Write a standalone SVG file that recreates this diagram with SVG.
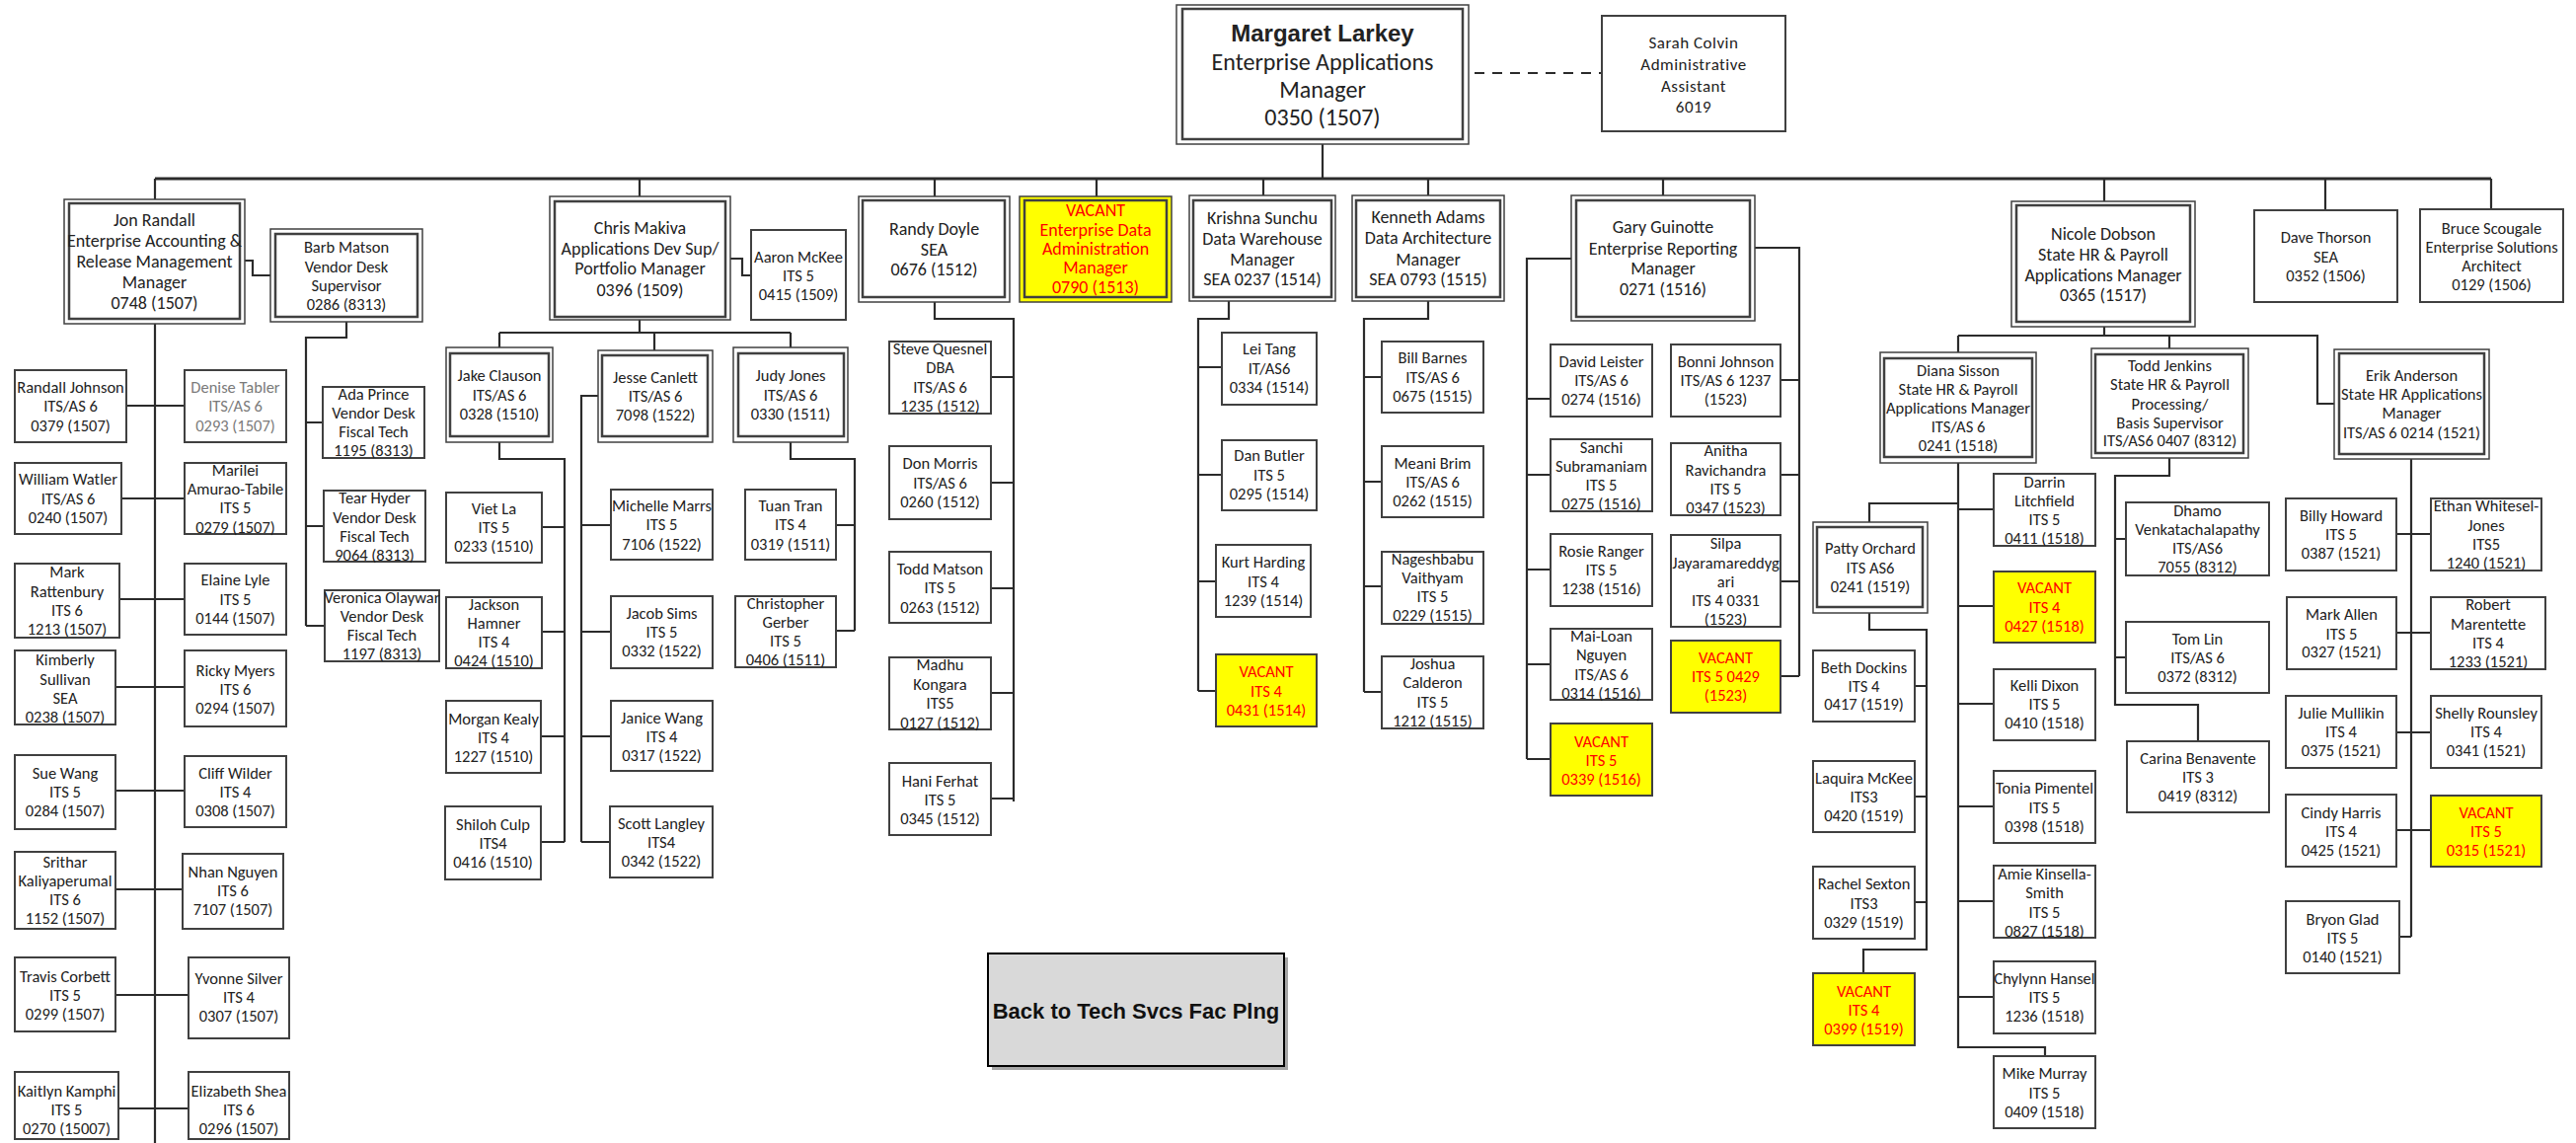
<svg xmlns="http://www.w3.org/2000/svg" width="2610" height="1158" viewBox="0 0 2610 1158">
<style>
.b{fill:#fff;stroke:#404040;stroke-width:2}
.o{fill:#fff;stroke:#404040;stroke-width:1.5}
.i{fill:none;stroke:#404040;stroke-width:2.5}
.y{fill:#ffff00}
.t{font-family:Carlito,Lato,"Liberation Sans",sans-serif;font-size:16.5px;fill:#222;text-anchor:middle}
.m{font-size:18px}
.r{fill:#ff0000}
.g{fill:#7a7a7a}
.c{fill:none;stroke:#2b2b2b;stroke-width:2.2}
</style>
<rect width="2610" height="1158" fill="#fff"/>
<g id="connectors" class="c">
<path d="M1340,146V181"/>
<path d="M157,181H2524" stroke-width="3"/>
<path d="M157,181V202M648,181V199M947,181V199M1111,181V199M1280,181V198M1447,181V198M1685,181V198M2132,181V204M2356,181V213M2524,181V212"/>
<path d="M1494,74H1623" stroke-dasharray="10 8"/>
<path d="M248,264H256V279H274"/>
<path d="M157,328V1158"/>
<path d="M128,411H187M123,505H187M121,607H187M117,696H187M117,801H187M117,901H185M117,1008H191M120,1123H191"/>
<path d="M351,326V342H310V634M310,428H327M310,533H328M310,634H329"/>
<path d="M740,262H752V279H761"/>
<path d="M648,324V337M506,337H801M506,337V352M663,337V355M801,337V352"/>
<path d="M506,448V465H572V853M549,534H572M549,640H572M548,746H572M548,853H572"/>
<path d="M606,401H589V853M589,532H619M589,640H619M589,746H619M589,853H618"/>
<path d="M801,448V465H866V639M847,532H866M847,639H866"/>
<path d="M947,306V323H1027V812M1004,382H1027M1004,489H1027M1004,596H1027M1004,702H1027M1004,809H1027"/>
<path d="M1245,305V323H1214V700M1214,372H1238M1214,481H1238M1214,589H1232M1214,700H1232"/>
<path d="M1447,305V323H1382V701M1382,382H1400M1382,488H1400M1382,594H1400M1382,701H1400"/>
<path d="M1592,262H1547V769M1547,404H1571M1547,481H1571M1547,577H1571M1547,673H1571M1547,769H1571"/>
<path d="M1778,251H1823V685M1804,385H1823M1804,481H1823M1804,589H1823M1804,685H1823"/>
<path d="M2132,331V340M1984,340H2348V409H2365M1984,340V357M2198,340V353"/>
<path d="M1984,469V1061H2072V1070M1984,510H1894V529M1984,516H2020M1984,614H2020M1984,713H2020M1984,817H2020M1984,913H2020M1984,1010H2020"/>
<path d="M1894,621V638H1952V962H1888V986M1940,695H1952M1940,807H1952M1940,914H1952"/>
<path d="M2198,464V482H2143V714H2227V751M2143,546H2154M2143,666H2154"/>
<path d="M2443,465V949M2428,541H2463M2428,641H2463M2428,742H2463M2428,841H2463M2431,949H2443"/>
</g>

<g id="n-larkey"><rect class="o" x="1192" y="5" width="296" height="141"/><rect class="i" x="1198" y="9" width="284" height="132"/>
<text class="t" style="font-size:24px"><tspan x="1340" y="42" style="font-family:'Liberation Sans',sans-serif;font-weight:bold">Margaret Larkey</tspan><tspan x="1340" y="71">Enterprise Applications</tspan><tspan x="1340" y="99">Manager</tspan><tspan x="1340" y="127">0350 (1507)</tspan></text></g>
<g id="n-colvin"><rect class="b" x="1623" y="16" width="186" height="117"/>
<text class="t" style="font-size:17px;letter-spacing:0.5px"><tspan x="1716" y="49">Sarah Colvin</tspan><tspan x="1716" y="71">Administrative</tspan><tspan x="1716" y="93">Assistant</tspan><tspan x="1716" y="114">6019</tspan></text></g>

<g id="n-randall"><rect class="o" x="65" y="202" width="183" height="126"/><rect class="i" x="70" y="206" width="173" height="117"/>
<text class="t m"><tspan x="156.5" y="229">Jon Randall</tspan><tspan x="156.5" y="250">Enterprise Accounting &amp;</tspan><tspan x="156.5" y="271">Release Management</tspan><tspan x="156.5" y="292">Manager</tspan><tspan x="156.5" y="313">0748 (1507)</tspan></text></g>
<g id="n-barb"><rect class="o" x="274" y="232" width="154" height="94"/><rect class="i" x="279" y="237" width="144" height="84"/>
<text class="t"><tspan x="351" y="256">Barb Matson</tspan><tspan x="351" y="276">Vendor Desk</tspan><tspan x="351" y="295">Supervisor</tspan><tspan x="351" y="314">0286 (8313)</tspan></text></g>
<g id="n-makiva"><rect class="o" x="557" y="199" width="183" height="125"/><rect class="i" x="562" y="204" width="173" height="117"/>
<text class="t m"><tspan x="648.5" y="237">Chris Makiva</tspan><tspan x="648.5" y="258">Applications Dev Sup/</tspan><tspan x="648.5" y="278">Portfolio Manager</tspan><tspan x="648.5" y="300">0396 (1509)</tspan></text></g>
<g id="n-mckee"><rect class="b" x="761" y="233" width="96" height="91"/>
<text class="t"><tspan x="809" y="266">Aaron McKee</tspan><tspan x="809" y="285">ITS 5</tspan><tspan x="809" y="304">0415 (1509)</tspan></text></g>
<g id="n-doyle"><rect class="o" x="870" y="199" width="153" height="107"/><rect class="i" x="874" y="203" width="144" height="98"/>
<text class="t m"><tspan x="946.5" y="238">Randy Doyle</tspan><tspan x="946.5" y="259">SEA</tspan><tspan x="946.5" y="279">0676 (1512)</tspan></text></g>
<g id="n-vacant-eda"><rect class="o y" x="1033" y="199" width="154" height="107"/><rect class="i" x="1038" y="203" width="144" height="98" style="fill:#ffff00"/>
<text class="t m r"><tspan x="1110" y="219">VACANT</tspan><tspan x="1110" y="239">Enterprise Data</tspan><tspan x="1110" y="258">Administration</tspan><tspan x="1110" y="277">Manager</tspan><tspan x="1110" y="297">0790 (1513)</tspan></text></g>
<g id="n-sunchu"><rect class="o" x="1205" y="198" width="148" height="107"/><rect class="i" x="1209" y="203" width="140" height="98"/>
<text class="t m"><tspan x="1279" y="227">Krishna Sunchu</tspan><tspan x="1279" y="248">Data Warehouse</tspan><tspan x="1279" y="269">Manager</tspan><tspan x="1279" y="289">SEA 0237  (1514)</tspan></text></g>
<g id="n-adams"><rect class="o" x="1370" y="198" width="154" height="107"/><rect class="i" x="1374" y="203" width="146" height="98"/>
<text class="t m"><tspan x="1447" y="226">Kenneth Adams</tspan><tspan x="1447" y="247">Data Architecture</tspan><tspan x="1447" y="269">Manager</tspan><tspan x="1447" y="289">SEA 0793  (1515)</tspan></text></g>
<g id="n-guinotte"><rect class="o" x="1592" y="198" width="186" height="127"/><rect class="i" x="1597" y="203" width="176" height="118"/>
<text class="t m"><tspan x="1685" y="236">Gary Guinotte</tspan><tspan x="1685" y="258">Enterprise Reporting</tspan><tspan x="1685" y="278">Manager</tspan><tspan x="1685" y="299">0271  (1516)</tspan></text></g>
<g id="n-dobson"><rect class="o" x="2038" y="204" width="186" height="127"/><rect class="i" x="2043" y="208" width="176" height="118"/>
<text class="t m"><tspan x="2131" y="243">Nicole Dobson</tspan><tspan x="2131" y="264">State HR &amp; Payroll</tspan><tspan x="2131" y="285">Applications Manager</tspan><tspan x="2131" y="305">0365 (1517)</tspan></text></g>
<g id="n-thorson"><rect class="b" x="2284" y="213" width="145" height="93"/>
<text class="t"><tspan x="2356.5" y="246">Dave Thorson</tspan><tspan x="2356.5" y="266">SEA</tspan><tspan x="2356.5" y="285">0352 (1506)</tspan></text></g>
<g id="n-scougale"><rect class="b" x="2452" y="212" width="145" height="94"/>
<text class="t"><tspan x="2524.5" y="237">Bruce Scougale</tspan><tspan x="2524.5" y="256">Enterprise Solutions</tspan><tspan x="2524.5" y="275">Architect</tspan><tspan x="2524.5" y="294">0129 (1506)</tspan></text></g>

<g id="n-rjohnson"><rect class="b" x="15" y="375" width="113" height="73"/><text class="t"><tspan x="71.5" y="398">Randall Johnson</tspan><tspan x="71.5" y="417">ITS/AS 6</tspan><tspan x="71.5" y="437">0379 (1507)</tspan></text></g>
<g id="n-tabler"><rect class="b" x="187" y="375" width="103" height="73"/><text class="t g"><tspan x="238.5" y="398">Denise Tabler</tspan><tspan x="238.5" y="417">ITS/AS 6</tspan><tspan x="238.5" y="437">0293 (1507)</tspan></text></g>
<g id="n-watler"><rect class="b" x="15" y="469" width="108" height="72"/><text class="t"><tspan x="69" y="491">William Watler</tspan><tspan x="69" y="511">ITS/AS 6</tspan><tspan x="69" y="530">0240 (1507)</tspan></text></g>
<g id="n-amurao"><rect class="b" x="187" y="469" width="103" height="72"/><text class="t"><tspan x="238.5" y="482">Marilei</tspan><tspan x="238.5" y="501">Amurao-Tabile</tspan><tspan x="238.5" y="520">ITS 5</tspan><tspan x="238.5" y="540">0279 (1507)</tspan></text></g>
<g id="n-rattenbury"><rect class="b" x="15" y="571" width="106" height="75"/><text class="t"><tspan x="68" y="585">Mark</tspan><tspan x="68" y="605">Rattenbury</tspan><tspan x="68" y="624">ITS 6</tspan><tspan x="68" y="643">1213 (1507)</tspan></text></g>
<g id="n-lyle"><rect class="b" x="187" y="571" width="103" height="72"/><text class="t"><tspan x="238.5" y="593">Elaine Lyle</tspan><tspan x="238.5" y="613">ITS 5</tspan><tspan x="238.5" y="632">0144 (1507)</tspan></text></g>
<g id="n-sullivan"><rect class="b" x="15" y="659" width="102" height="75"/><text class="t"><tspan x="66" y="674">Kimberly</tspan><tspan x="66" y="694">Sullivan</tspan><tspan x="66" y="713">SEA</tspan><tspan x="66" y="732">0238 (1507)</tspan></text></g>
<g id="n-myers"><rect class="b" x="187" y="659" width="103" height="77"/><text class="t"><tspan x="238.5" y="685">Ricky Myers</tspan><tspan x="238.5" y="704">ITS 6</tspan><tspan x="238.5" y="723">0294 (1507)</tspan></text></g>
<g id="n-swang"><rect class="b" x="15" y="765" width="102" height="75"/><text class="t"><tspan x="66" y="789">Sue Wang</tspan><tspan x="66" y="808">ITS 5</tspan><tspan x="66" y="827">0284 (1507)</tspan></text></g>
<g id="n-wilder"><rect class="b" x="187" y="766" width="103" height="72"/><text class="t"><tspan x="238.5" y="789">Cliff Wilder</tspan><tspan x="238.5" y="808">ITS 4</tspan><tspan x="238.5" y="827">0308 (1507)</tspan></text></g>
<g id="n-kaliyaperumal"><rect class="b" x="15" y="863" width="102" height="78"/><text class="t"><tspan x="66" y="879">Srithar</tspan><tspan x="66" y="898">Kaliyaperumal</tspan><tspan x="66" y="917">ITS 6</tspan><tspan x="66" y="936">1152 (1507)</tspan></text></g>
<g id="n-nnguyen"><rect class="b" x="185" y="865" width="102" height="76"/><text class="t"><tspan x="236" y="889">Nhan Nguyen</tspan><tspan x="236" y="908">ITS 6</tspan><tspan x="236" y="927">7107 (1507)</tspan></text></g>
<g id="n-corbett"><rect class="b" x="15" y="970" width="102" height="75"/><text class="t"><tspan x="66" y="995">Travis Corbett</tspan><tspan x="66" y="1014">ITS 5</tspan><tspan x="66" y="1033">0299 (1507)</tspan></text></g>
<g id="n-silver"><rect class="b" x="191" y="970" width="102" height="82"/><text class="t"><tspan x="242" y="997">Yvonne Silver</tspan><tspan x="242" y="1016">ITS 4</tspan><tspan x="242" y="1035">0307 (1507)</tspan></text></g>
<g id="n-kamphi"><rect class="b" x="15" y="1086" width="105" height="68"/><text class="t"><tspan x="67.5" y="1111">Kaitlyn Kamphi</tspan><tspan x="67.5" y="1130">ITS 5</tspan><tspan x="67.5" y="1149">0270 (15007)</tspan></text></g>
<g id="n-shea"><rect class="b" x="191" y="1086" width="102" height="68"/><text class="t"><tspan x="242" y="1111">Elizabeth Shea</tspan><tspan x="242" y="1130">ITS 6</tspan><tspan x="242" y="1149">0296 (1507)</tspan></text></g>

<g id="n-prince"><rect class="b" x="327" y="392" width="103" height="72"/><text class="t"><tspan x="378.5" y="405">Ada Prince</tspan><tspan x="378.5" y="424">Vendor Desk</tspan><tspan x="378.5" y="443">Fiscal Tech</tspan><tspan x="378.5" y="462">1195 (8313)</tspan></text></g>
<g id="n-hyder"><rect class="b" x="328" y="497" width="103" height="72"/><text class="t"><tspan x="379.5" y="510">Tear Hyder</tspan><tspan x="379.5" y="530">Vendor Desk</tspan><tspan x="379.5" y="549">Fiscal Tech</tspan><tspan x="379.5" y="568">9064 (8313)</tspan></text></g>
<g id="n-olaywar"><rect class="b" x="329" y="598" width="116" height="72"/><text class="t"><tspan x="387" y="611">Veronica Olaywar</tspan><tspan x="387" y="630">Vendor Desk</tspan><tspan x="387" y="649">Fiscal Tech</tspan><tspan x="387" y="668">1197 (8313)</tspan></text></g>

<g id="n-clauson"><rect class="o" x="452" y="352" width="108" height="96"/><rect class="i" x="456" y="358" width="100" height="84"/><text class="t"><tspan x="506" y="386">Jake Clauson</tspan><tspan x="506" y="406">ITS/AS  6</tspan><tspan x="506" y="425">0328 (1510)</tspan></text></g>
<g id="n-canlett"><rect class="o" x="606" y="355" width="116" height="93"/><rect class="i" x="610" y="360" width="107" height="82"/><text class="t"><tspan x="664" y="388">Jesse Canlett</tspan><tspan x="664" y="407">ITS/AS 6</tspan><tspan x="664" y="426">7098 (1522)</tspan></text></g>
<g id="n-jones"><rect class="o" x="743" y="352" width="116" height="96"/><rect class="i" x="748" y="358" width="107" height="84"/><text class="t"><tspan x="801" y="386">Judy Jones</tspan><tspan x="801" y="406">ITS/AS 6</tspan><tspan x="801" y="425">0330 (1511)</tspan></text></g>
<g id="n-la"><rect class="b" x="452" y="499" width="97" height="71"/><text class="t"><tspan x="500.5" y="521">Viet La</tspan><tspan x="500.5" y="540">ITS 5</tspan><tspan x="500.5" y="559">0233 (1510)</tspan></text></g>
<g id="n-hamner"><rect class="b" x="452" y="605" width="97" height="72"/><text class="t"><tspan x="500.5" y="618">Jackson</tspan><tspan x="500.5" y="637">Hamner</tspan><tspan x="500.5" y="656">ITS 4</tspan><tspan x="500.5" y="675">0424 (1510)</tspan></text></g>
<g id="n-kealy"><rect class="b" x="452" y="710" width="96" height="73"/><text class="t"><tspan x="500" y="734">Morgan Kealy</tspan><tspan x="500" y="753">ITS 4</tspan><tspan x="500" y="772">1227 (1510)</tspan></text></g>
<g id="n-culp"><rect class="b" x="451" y="817" width="97" height="74"/><text class="t"><tspan x="499.5" y="841">Shiloh Culp</tspan><tspan x="499.5" y="860">ITS4</tspan><tspan x="499.5" y="879">0416  (1510)</tspan></text></g>
<g id="n-marrs"><rect class="b" x="619" y="496" width="103" height="71"/><text class="t"><tspan x="670.5" y="518">Michelle Marrs</tspan><tspan x="670.5" y="537">ITS 5</tspan><tspan x="670.5" y="557">7106 (1522)</tspan></text></g>
<g id="n-sims"><rect class="b" x="619" y="604" width="103" height="73"/><text class="t"><tspan x="670.5" y="627">Jacob Sims</tspan><tspan x="670.5" y="646">ITS 5</tspan><tspan x="670.5" y="665">0332 (1522)</tspan></text></g>
<g id="n-jwang"><rect class="b" x="619" y="710" width="103" height="71"/><text class="t"><tspan x="670.5" y="733">Janice Wang</tspan><tspan x="670.5" y="752">ITS 4</tspan><tspan x="670.5" y="771">0317 (1522)</tspan></text></g>
<g id="n-langley"><rect class="b" x="618" y="817" width="104" height="72"/><text class="t"><tspan x="670" y="840">Scott Langley</tspan><tspan x="670" y="859">ITS4</tspan><tspan x="670" y="878">0342 (1522)</tspan></text></g>
<g id="n-tran"><rect class="b" x="755" y="496" width="92" height="71"/><text class="t"><tspan x="801" y="518">Tuan Tran</tspan><tspan x="801" y="537">ITS 4</tspan><tspan x="801" y="557">0319 (1511)</tspan></text></g>
<g id="n-gerber"><rect class="b" x="745" y="604" width="102" height="72"/><text class="t"><tspan x="796" y="617">Christopher</tspan><tspan x="796" y="636">Gerber</tspan><tspan x="796" y="655">ITS 5</tspan><tspan x="796" y="674">0406 (1511)</tspan></text></g>

<g id="n-quesnel"><rect class="b" x="901" y="346" width="103" height="73"/><text class="t"><tspan x="952.5" y="359">Steve Quesnel</tspan><tspan x="952.5" y="378">DBA</tspan><tspan x="952.5" y="398">ITS/AS 6</tspan><tspan x="952.5" y="417">1235 (1512)</tspan></text></g>
<g id="n-morris"><rect class="b" x="901" y="452" width="103" height="74"/><text class="t"><tspan x="952.5" y="475">Don Morris</tspan><tspan x="952.5" y="495">ITS/AS 6</tspan><tspan x="952.5" y="514">0260 (1512)</tspan></text></g>
<g id="n-matson"><rect class="b" x="901" y="559" width="103" height="72"/><text class="t"><tspan x="952.5" y="582">Todd Matson</tspan><tspan x="952.5" y="601">ITS 5</tspan><tspan x="952.5" y="621">0263 (1512)</tspan></text></g>
<g id="n-kongara"><rect class="b" x="901" y="666" width="103" height="73"/><text class="t"><tspan x="952.5" y="679">Madhu</tspan><tspan x="952.5" y="699">Kongara</tspan><tspan x="952.5" y="718">ITS5</tspan><tspan x="952.5" y="738">0127 (1512)</tspan></text></g>
<g id="n-ferhat"><rect class="b" x="901" y="773" width="103" height="73"/><text class="t"><tspan x="952.5" y="797">Hani Ferhat</tspan><tspan x="952.5" y="816">ITS 5</tspan><tspan x="952.5" y="835">0345 (1512)</tspan></text></g>

<g id="n-tang"><rect class="b" x="1238" y="337" width="96" height="73"/><text class="t"><tspan x="1286" y="359">Lei Tang</tspan><tspan x="1286" y="379">IT/AS6</tspan><tspan x="1286" y="398">0334 (1514)</tspan></text></g>
<g id="n-butler"><rect class="b" x="1238" y="446" width="96" height="71"/><text class="t"><tspan x="1286" y="467">Dan Butler</tspan><tspan x="1286" y="487">ITS 5</tspan><tspan x="1286" y="506">0295 (1514)</tspan></text></g>
<g id="n-harding"><rect class="b" x="1232" y="552" width="96" height="73"/><text class="t"><tspan x="1280" y="575">Kurt Harding</tspan><tspan x="1280" y="595">ITS 4</tspan><tspan x="1280" y="614">1239 (1514)</tspan></text></g>
<g id="n-vacant-0431"><rect class="b y" x="1232" y="663" width="102" height="73"/><text class="t r"><tspan x="1283" y="686">VACANT</tspan><tspan x="1283" y="706">ITS 4</tspan><tspan x="1283" y="725">0431 (1514)</tspan></text></g>

<g id="n-barnes"><rect class="b" x="1400" y="346" width="103" height="72"/><text class="t"><tspan x="1451.5" y="368">Bill Barnes</tspan><tspan x="1451.5" y="388">ITS/AS 6</tspan><tspan x="1451.5" y="407">0675  (1515)</tspan></text></g>
<g id="n-brim"><rect class="b" x="1400" y="452" width="103" height="72"/><text class="t"><tspan x="1451.5" y="475">Meani Brim</tspan><tspan x="1451.5" y="494">ITS/AS 6</tspan><tspan x="1451.5" y="513">0262 (1515)</tspan></text></g>
<g id="n-vaithyam"><rect class="b" x="1400" y="559" width="103" height="73"/><text class="t"><tspan x="1451.5" y="572">Nageshbabu</tspan><tspan x="1451.5" y="591">Vaithyam</tspan><tspan x="1451.5" y="610">ITS 5</tspan><tspan x="1451.5" y="629">0229  (1515)</tspan></text></g>
<g id="n-calderon"><rect class="b" x="1400" y="665" width="103" height="73"/><text class="t"><tspan x="1451.5" y="678">Joshua</tspan><tspan x="1451.5" y="697">Calderon</tspan><tspan x="1451.5" y="717">ITS 5</tspan><tspan x="1451.5" y="736">1212  (1515)</tspan></text></g>

<g id="n-leister"><rect class="b" x="1571" y="349" width="103" height="73"/><text class="t"><tspan x="1622.5" y="372">David Leister</tspan><tspan x="1622.5" y="391">ITS/AS 6</tspan><tspan x="1622.5" y="410">0274 (1516)</tspan></text></g>
<g id="n-subramaniam"><rect class="b" x="1571" y="445" width="103" height="73"/><text class="t"><tspan x="1622.5" y="459">Sanchi</tspan><tspan x="1622.5" y="478">Subramaniam</tspan><tspan x="1622.5" y="497">ITS 5</tspan><tspan x="1622.5" y="516">0275 (1516)</tspan></text></g>
<g id="n-ranger"><rect class="b" x="1571" y="541" width="103" height="73"/><text class="t"><tspan x="1622.5" y="564">Rosie Ranger</tspan><tspan x="1622.5" y="583">ITS 5</tspan><tspan x="1622.5" y="602">1238 (1516)</tspan></text></g>
<g id="n-mlnguyen"><rect class="b" x="1571" y="637" width="103" height="72"/><text class="t"><tspan x="1622.5" y="650">Mai-Loan</tspan><tspan x="1622.5" y="669">Nguyen</tspan><tspan x="1622.5" y="689">ITS/AS 6</tspan><tspan x="1622.5" y="708">0314 (1516)</tspan></text></g>
<g id="n-vacant-0339"><rect class="b y" x="1571" y="733" width="103" height="73"/><text class="t r"><tspan x="1622.5" y="757">VACANT</tspan><tspan x="1622.5" y="776">ITS 5</tspan><tspan x="1622.5" y="795">0339 (1516)</tspan></text></g>
<g id="n-bjohnson"><rect class="b" x="1693" y="349" width="111" height="73"/><text class="t"><tspan x="1748.5" y="372">Bonni Johnson</tspan><tspan x="1748.5" y="391">ITS/AS 6  1237</tspan><tspan x="1748.5" y="410">(1523)</tspan></text></g>
<g id="n-ravichandra"><rect class="b" x="1693" y="449" width="111" height="73"/><text class="t"><tspan x="1748.5" y="462">Anitha</tspan><tspan x="1748.5" y="482">Ravichandra</tspan><tspan x="1748.5" y="501">ITS 5</tspan><tspan x="1748.5" y="520">0347 (1523)</tspan></text></g>
<g id="n-jayaramareddygari"><rect class="b" x="1693" y="542" width="111" height="93"/><text class="t"><tspan x="1748.5" y="556">Silpa</tspan><tspan x="1748.5" y="576">Jayaramareddyg</tspan><tspan x="1748.5" y="595">ari</tspan><tspan x="1748.5" y="614">ITS 4  0331</tspan><tspan x="1748.5" y="633">(1523)</tspan></text></g>
<g id="n-vacant-0429"><rect class="b y" x="1693" y="649" width="111" height="73"/><text class="t r"><tspan x="1748.5" y="672">VACANT</tspan><tspan x="1748.5" y="691">ITS 5 0429</tspan><tspan x="1748.5" y="710">(1523)</tspan></text></g>

<g id="n-sisson"><rect class="o" x="1905" y="357" width="158" height="112"/><rect class="i" x="1909" y="363" width="150" height="100"/><text class="t"><tspan x="1984" y="381">Diana Sisson</tspan><tspan x="1984" y="400">State HR &amp; Payroll</tspan><tspan x="1984" y="419">Applications Manager</tspan><tspan x="1984" y="438">ITS/AS 6</tspan><tspan x="1984" y="457">0241 (1518)</tspan></text></g>
<g id="n-jenkins"><rect class="o" x="2119" y="353" width="159" height="111"/><rect class="i" x="2123" y="359" width="150" height="100"/><text class="t"><tspan x="2198.5" y="376">Todd Jenkins</tspan><tspan x="2198.5" y="395">State HR &amp; Payroll</tspan><tspan x="2198.5" y="415">Processing/</tspan><tspan x="2198.5" y="434">Basis Supervisor</tspan><tspan x="2198.5" y="452">ITS/AS6 0407 (8312)</tspan></text></g>
<g id="n-anderson"><rect class="o" x="2365" y="354" width="157" height="111"/><rect class="i" x="2370" y="358" width="147" height="102"/><text class="t"><tspan x="2443.5" y="386">Erik Anderson</tspan><tspan x="2443.5" y="405">State HR Applications</tspan><tspan x="2443.5" y="424">Manager</tspan><tspan x="2443.5" y="444">ITS/AS 6  0214 (1521)</tspan></text></g>

<g id="n-orchard"><rect class="o" x="1837" y="529" width="116" height="92"/><rect class="i" x="1841" y="534" width="107" height="81"/><text class="t"><tspan x="1895" y="561">Patty Orchard</tspan><tspan x="1895" y="581">ITS AS6</tspan><tspan x="1895" y="600">0241 (1519)</tspan></text></g>
<g id="n-dockins"><rect class="b" x="1837" y="659" width="103" height="72"/><text class="t"><tspan x="1888.5" y="682">Beth Dockins</tspan><tspan x="1888.5" y="701">ITS 4</tspan><tspan x="1888.5" y="719">0417 (1519)</tspan></text></g>
<g id="n-lmckee"><rect class="b" x="1837" y="771" width="103" height="72"/><text class="t"><tspan x="1888.5" y="794">Laquira McKee</tspan><tspan x="1888.5" y="813">ITS3</tspan><tspan x="1888.5" y="832">0420 (1519)</tspan></text></g>
<g id="n-sexton"><rect class="b" x="1837" y="878" width="103" height="73"/><text class="t"><tspan x="1888.5" y="901">Rachel Sexton</tspan><tspan x="1888.5" y="921">ITS3</tspan><tspan x="1888.5" y="940">0329 (1519)</tspan></text></g>
<g id="n-vacant-0399"><rect class="b y" x="1837" y="986" width="103" height="73"/><text class="t r"><tspan x="1888.5" y="1010">VACANT</tspan><tspan x="1888.5" y="1029">ITS 4</tspan><tspan x="1888.5" y="1048">0399 (1519)</tspan></text></g>
<g id="n-litchfield"><rect class="b" x="2020" y="480" width="103" height="73"/><text class="t"><tspan x="2071.5" y="494">Darrin</tspan><tspan x="2071.5" y="513">Litchfield</tspan><tspan x="2071.5" y="532">ITS 5</tspan><tspan x="2071.5" y="551">0411 (1518)</tspan></text></g>
<g id="n-vacant-0427"><rect class="b y" x="2020" y="579" width="103" height="72"/><text class="t r"><tspan x="2071.5" y="601">VACANT</tspan><tspan x="2071.5" y="621">ITS 4</tspan><tspan x="2071.5" y="640">0427 (1518)</tspan></text></g>
<g id="n-dixon"><rect class="b" x="2020" y="678" width="103" height="72"/><text class="t"><tspan x="2071.5" y="700">Kelli Dixon</tspan><tspan x="2071.5" y="719">ITS 5</tspan><tspan x="2071.5" y="738">0410 (1518)</tspan></text></g>
<g id="n-pimentel"><rect class="b" x="2020" y="781" width="103" height="73"/><text class="t"><tspan x="2071.5" y="804">Tonia Pimentel</tspan><tspan x="2071.5" y="824">ITS 5</tspan><tspan x="2071.5" y="843">0398 (1518)</tspan></text></g>
<g id="n-kinsella"><rect class="b" x="2020" y="877" width="103" height="73"/><text class="t"><tspan x="2071.5" y="891">Amie Kinsella-</tspan><tspan x="2071.5" y="910">Smith</tspan><tspan x="2071.5" y="930">ITS 5</tspan><tspan x="2071.5" y="949">0827 (1518)</tspan></text></g>
<g id="n-hansel"><rect class="b" x="2020" y="974" width="103" height="73"/><text class="t"><tspan x="2071.5" y="997">Chylynn Hansel</tspan><tspan x="2071.5" y="1016">ITS 5</tspan><tspan x="2071.5" y="1035">1236 (1518)</tspan></text></g>
<g id="n-murray"><rect class="b" x="2020" y="1070" width="103" height="73"/><text class="t"><tspan x="2071.5" y="1093">Mike Murray</tspan><tspan x="2071.5" y="1113">ITS 5</tspan><tspan x="2071.5" y="1132">0409 (1518)</tspan></text></g>

<g id="n-venkatachalapathy"><rect class="b" x="2154" y="509" width="145" height="74"/><text class="t"><tspan x="2226.5" y="523">Dhamo</tspan><tspan x="2226.5" y="542">Venkatachalapathy</tspan><tspan x="2226.5" y="561">ITS/AS6</tspan><tspan x="2226.5" y="580">7055 (8312)</tspan></text></g>
<g id="n-lin"><rect class="b" x="2154" y="630" width="145" height="72"/><text class="t"><tspan x="2226.5" y="653">Tom Lin</tspan><tspan x="2226.5" y="672">ITS/AS 6</tspan><tspan x="2226.5" y="691">0372 (8312)</tspan></text></g>
<g id="n-benavente"><rect class="b" x="2155" y="751" width="144" height="72"/><text class="t"><tspan x="2227" y="774">Carina Benavente</tspan><tspan x="2227" y="793">ITS 3</tspan><tspan x="2227" y="812">0419 (8312)</tspan></text></g>

<g id="n-howard"><rect class="b" x="2316" y="505" width="112" height="73"/><text class="t"><tspan x="2372" y="528">Billy Howard</tspan><tspan x="2372" y="547">ITS 5</tspan><tspan x="2372" y="566">0387 (1521)</tspan></text></g>
<g id="n-whitesel"><rect class="b" x="2463" y="505" width="112" height="73"/><text class="t"><tspan x="2519" y="518">Ethan Whitesel-</tspan><tspan x="2519" y="538">Jones</tspan><tspan x="2519" y="557">ITS5</tspan><tspan x="2519" y="576">1240 (1521)</tspan></text></g>
<g id="n-allen"><rect class="b" x="2317" y="605" width="111" height="73"/><text class="t"><tspan x="2372.5" y="628">Mark Allen</tspan><tspan x="2372.5" y="648">ITS 5</tspan><tspan x="2372.5" y="666">0327 (1521)</tspan></text></g>
<g id="n-marentette"><rect class="b" x="2463" y="605" width="116" height="73"/><text class="t"><tspan x="2521" y="618">Robert</tspan><tspan x="2521" y="638">Marentette</tspan><tspan x="2521" y="657">ITS 4</tspan><tspan x="2521" y="676">1233 (1521)</tspan></text></g>
<g id="n-mullikin"><rect class="b" x="2316" y="705" width="112" height="73"/><text class="t"><tspan x="2372" y="728">Julie Mullikin</tspan><tspan x="2372" y="747">ITS 4</tspan><tspan x="2372" y="766">0375 (1521)</tspan></text></g>
<g id="n-rounsley"><rect class="b" x="2463" y="705" width="112" height="73"/><text class="t"><tspan x="2519" y="728">Shelly Rounsley</tspan><tspan x="2519" y="747">ITS 4</tspan><tspan x="2519" y="766">0341 (1521)</tspan></text></g>
<g id="n-harris"><rect class="b" x="2316" y="805" width="112" height="73"/><text class="t"><tspan x="2372" y="829">Cindy Harris</tspan><tspan x="2372" y="848">ITS 4</tspan><tspan x="2372" y="867">0425 (1521)</tspan></text></g>
<g id="n-vacant-0315"><rect class="b y" x="2463" y="806" width="112" height="72"/><text class="t r"><tspan x="2519" y="829">VACANT</tspan><tspan x="2519" y="848">ITS 5</tspan><tspan x="2519" y="867">0315 (1521)</tspan></text></g>
<g id="n-glad"><rect class="b" x="2316" y="913" width="115" height="73"/><text class="t"><tspan x="2373.5" y="937">Bryon Glad</tspan><tspan x="2373.5" y="956">ITS 5</tspan><tspan x="2373.5" y="975">0140 (1521)</tspan></text></g>

<g id="btn-back"><rect x="1005" y="970" width="300" height="114" fill="#a6a6a6"/><rect x="1001" y="966" width="300" height="114" fill="#d9d9d9" stroke="#000" stroke-width="2"/>
<text x="1151" y="1032" style="font-family:'Liberation Sans',Arial,sans-serif;font-weight:bold;font-size:22px;fill:#111;text-anchor:middle">Back to Tech Svcs Fac Plng</text></g>
</svg>
